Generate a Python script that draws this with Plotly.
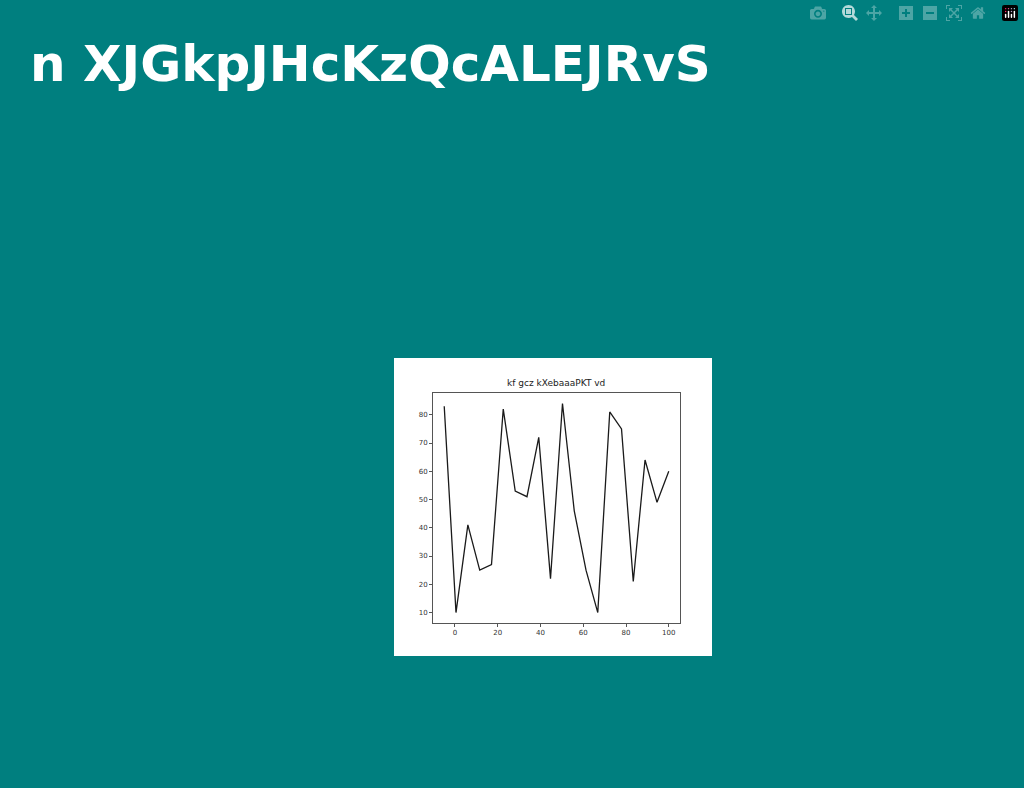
import plotly.graph_objects as go

W, H = 1024, 788

x_vals = [-5, 0.5, 6.05, 11.6, 17.1, 22.6, 28.2, 33.7, 39.2, 44.7,
          50.3, 55.8, 61.3, 66.8, 72.4, 77.9, 83.4, 88.9, 94.5, 100]
y_vals = [83, 10, 41, 25, 27, 82, 53, 51, 72, 22,
          84, 46, 25, 10, 81, 75, 21, 64, 49, 60]
x_ticks = [0, 20, 40, 60, 80, 100]
y_ticks = [10, 20, 30, 40, 50, 60, 70, 80]

page_title = "n XJGkpJHcKzQcALEJRvS"
chart_title = "kf gcz kXebaaaPKT vd"


def px_x(p):
    return p / W


def px_y(p):
    return 1 - p / H


fig = go.Figure(go.Scatter(x=x_vals, y=y_vals, mode="lines",
                           line=dict(color="#1a1a1a", width=1.3),
                           showlegend=False))

axis_style = dict(showgrid=False, zeroline=False, showline=True, mirror=True,
                  linecolor="#555555", linewidth=1, ticks="outside",
                  ticklen=3, tickcolor="#555555",
                  tickfont=dict(family="DejaVu Sans", size=7, color="#333333"))

fig.update_xaxes(domain=[px_x(433), px_x(680)], range=[-10.25, 105.25],
                 tickvals=x_ticks, **axis_style)
fig.update_yaxes(domain=[px_y(623), px_y(393)], range=[6.3, 87.7],
                 tickvals=y_ticks, **axis_style)

fig.add_shape(type="rect", xref="paper", yref="paper",
              x0=px_x(394), x1=px_x(712), y0=px_y(656), y1=px_y(358),
              fillcolor="white", line=dict(width=0), layer="below")

fig.add_annotation(text=page_title, xref="paper", yref="paper",
                   x=px_x(28), y=px_y(64), xanchor="left", yanchor="middle",
                   showarrow=False,
                   font=dict(family="DejaVu Sans", size=50, color="white",
                             weight="bold"))
fig.add_annotation(text=chart_title, xref="paper", yref="paper",
                   x=px_x(556), y=px_y(390), xanchor="center", yanchor="bottom",
                   showarrow=False,
                   font=dict(family="DejaVu Sans", size=9, color="#222222"))

fig.update_layout(width=W, height=H, margin=dict(l=0, r=0, t=0, b=0),
                  paper_bgcolor="#007f7f", plot_bgcolor="white")

fig.write_html("out.html")

# drop the default body margin so the figure fills the window
with open("out.html", encoding="utf-8") as f:
    html = f.read()
html = html.replace("<head>", "<head><style>body{margin:0;background:#007f7f}</style>", 1)
with open("out.html", "w", encoding="utf-8") as f:
    f.write(html)
